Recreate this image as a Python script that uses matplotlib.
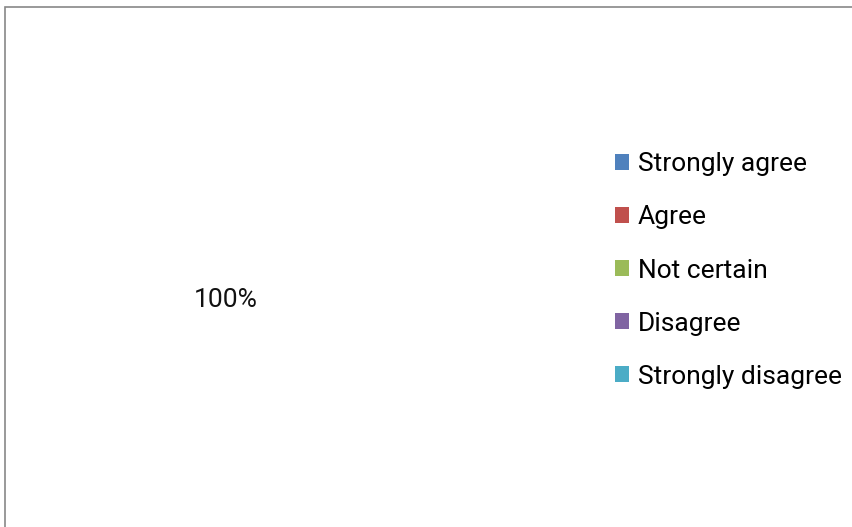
import matplotlib.pyplot as plt
from matplotlib.patches import Patch, Rectangle

# --------------------------
# Data
# --------------------------
categories = ["Strongly agree", "Agree", "Not certain", "Disagree", "Strongly disagree"]
values = [100, 0, 0, 0, 0]
colors = ["#4F81BD", "#C0504D", "#9BBB59", "#8064A2", "#4BACC6"]

plt.rcParams['font.family'] = ['Roboto', 'DejaVu Sans']

fig = plt.figure(figsize=(8.52, 5.27), dpi=100)

# outer chart frame (top and left edges visible)
fig.patches.append(Rectangle((5 / 852, -0.05), 1.2, 1 - 7 / 527 + 0.05,
                             transform=fig.transFigure, fill=False,
                             edgecolor="#888888", linewidth=1.2))

# pie area (slices render blank, only the label shows)
ax = fig.add_axes([(226 - 150) / 852, 1 - (300 + 150) / 527, 300 / 852, 300 / 527])
wedges, texts, autotexts = ax.pie(
    values, colors=colors, startangle=90, counterclock=False,
    autopct=lambda p: f"{p:.0f}%" if p > 0 else "", pctdistance=0.0,
    wedgeprops=dict(fill=False, linewidth=0),
    textprops=dict(fontsize=19, color="#111111"))
ax.set_aspect("equal")

handles = [Patch(facecolor=c, edgecolor="none") for c in colors]
fig.legend(handles, categories, loc="center left",
           bbox_to_anchor=(591 / 852, 1 - 270.5 / 527), frameon=False,
           fontsize=19, handlelength=0.55, handleheight=0.55,
           handletextpad=0.33, labelspacing=1.1)

plt.savefig("out.png", dpi=100)
